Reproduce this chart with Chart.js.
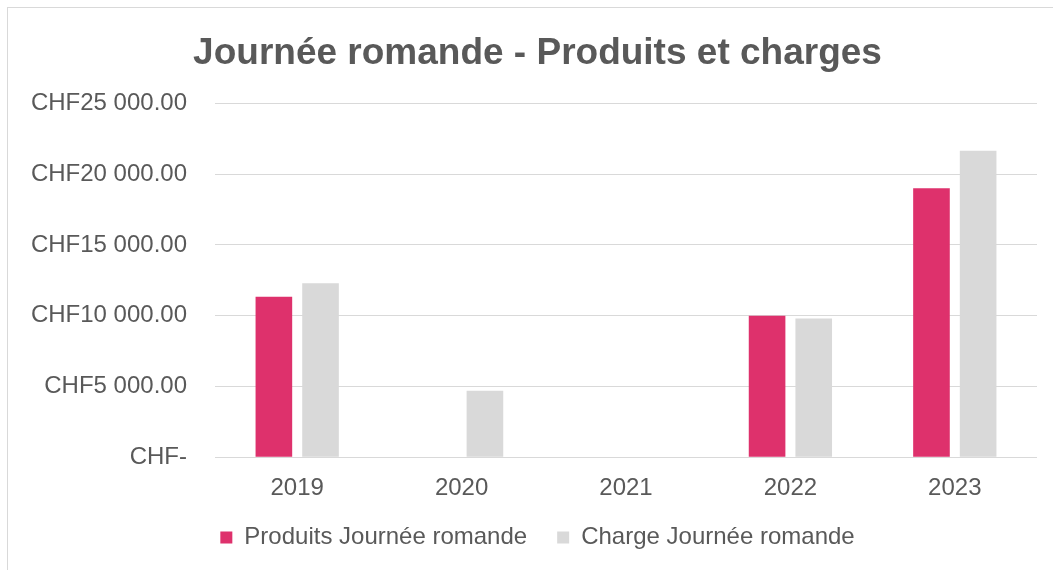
<!DOCTYPE html>
<html>
<head>
<meta charset="utf-8">
<script src="https://cdn.jsdelivr.net/npm/chart.js@4/dist/chart.umd.min.js"></script>
<style>
  html, body { margin: 0; padding: 0; background: #fff; overflow: hidden; }
  #frame { position: absolute; left: 7px; top: 7px; width: 1100px; height: 600px; border: 1px solid #d9d9d9; box-sizing: border-box; }
  #chart { position: absolute; left: 0; top: 0; }
</style>
</head>
<body>
<div id="frame"></div>
<canvas id="chart" width="1075" height="570"></canvas>
<script>
const years = ['2019', '2020', '2021', '2022', '2023'];
const produits = [11350, null, null, 10000, 19000];
const charges = [12300, 4700, null, 9800, 21650];
const yTicks = [0, 5000, 10000, 15000, 20000, 25000];

function chf(v) {
    if (v === 0) return 'CHF-';
    const s = v.toFixed(2).split('.');
    return 'CHF' + s[0].replace(/\B(?=(\d{3})+(?!\d))/g, ' ') + '.' + s[1];
}

Chart.defaults.font.family = "'Liberation Sans', Arial, sans-serif";
Chart.defaults.color = '#595959';

new Chart(document.getElementById('chart').getContext('2d'), {
    type: 'bar',
    data: {
        labels: years,
        datasets: [{
            label: 'Produits Journée romande',
            data: produits,
            backgroundColor: '#DE316C'
        }, {
            label: 'Charge Journée romande',
            data: charges,
            backgroundColor: '#D9D9D9'
        }]
    },
    options: {
        responsive: false,
        animation: false,
        devicePixelRatio: 1,
        categoryPercentage: 0.5675,
        barPercentage: 0.785,
        layout: { padding: { left: 0, right: 0, top: 0, bottom: 10.5 } },
        plugins: {
            title: {
                display: true,
                text: 'Journée romande - Produits et charges',
                font: { size: 37, weight: 'bold' },
                color: '#595959',
                padding: { top: 32, bottom: 27 }
            },
            legend: {
                position: 'bottom',
                labels: { font: { size: 24 }, boxWidth: 12, boxHeight: 12, padding: 30 }
            },
            tooltip: { enabled: false }
        },
        scales: {
            x: {
                grid: { display: false },
                border: { display: false },
                ticks: { font: { size: 24 }, padding: 9, maxRotation: 0 },
                afterFit: s => { s.height = 38.2; }
            },
            y: {
                min: 0,
                max: 25000,
                afterBuildTicks: s => { s.ticks = yTicks.map(v => ({ value: v })); },
                grid: { color: '#D9D9D9', lineWidth: 1, drawTicks: false },
                border: { display: false },
                ticks: { font: { size: 24 }, padding: 28, callback: v => chf(v) },
                afterFit: s => { s.width = 215; }
            },
            // empty right axis keeps the plot clear of the frame's right edge
            yRight: {
                position: 'right',
                grid: { display: false },
                border: { display: false },
                ticks: { display: false },
                afterFit: s => { s.width = 38; }
            }
        }
    }
});
</script>
</body>
</html>
